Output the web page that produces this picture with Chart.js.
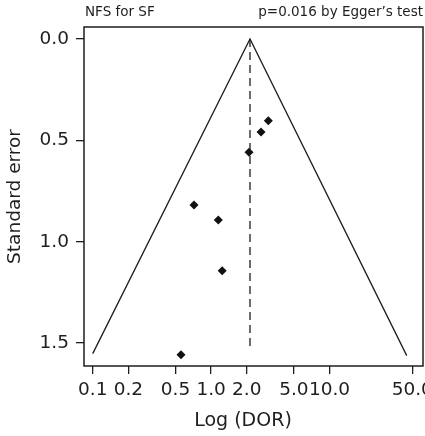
<!DOCTYPE html>
<html>
<head>
<meta charset="utf-8">
<script src="https://cdn.jsdelivr.net/npm/chart.js@4.4.1/dist/chart.umd.min.js"></script>
<style>
  html, body { margin: 0; padding: 0; background: #fff; overflow: hidden; }
  #wrap { width: 440px; height: 436px; }
</style>
</head>
<body>
<div id="wrap"><canvas id="funnelChart" width="440" height="436"></canvas></div>
<script>
// study estimates (DOR on a log axis, standard error reversed)
const studyDOR = [3.04, 2.64, 2.09, 0.717, 1.15, 1.24, 0.557];
const studySE  = [0.403, 0.459, 0.559, 0.819, 0.893, 1.143, 1.557];

// pseudo 95% confidence funnel and pooled estimate
const funnelX = [0.1, 2.13, 44.9];
const funnelY = [1.552, 0, 1.562];
const pooledX = [2.13, 2.13];
const pooledY = [0, 1.535];

const xTicks = [0.1, 0.2, 0.5, 1, 2, 5, 10, 50];
const yTicks = [0, 0.5, 1, 1.5];

const leftTitle = 'NFS for SF';
const rightTitle = 'p=0.016 by Egger\u2019s test';
const xLabel = 'Log (DOR)';
const yLabel = 'Standard error';

const ink = '#1e1e1e';
const fontFam = '"DejaVu Sans", sans-serif';

const toPts = (xs, ys) => xs.map((x, i) => ({ x: x, y: ys[i] }));

// box around the plot + the texts outside the axes
const extras = {
    id: 'extras',
    afterDraw(chart) {
        const { ctx, chartArea: a } = chart;
        ctx.save();
        ctx.strokeStyle = ink;
        ctx.lineWidth = 1.5;
        ctx.strokeRect(a.left, a.top, a.right - a.left, a.bottom - a.top);

        ctx.fillStyle = ink;
        ctx.font = '13.5px ' + fontFam;
        ctx.textBaseline = 'middle';
        ctx.textAlign = 'left';
        ctx.fillText(leftTitle, a.left + 1, 12);
        ctx.textAlign = 'right';
        ctx.fillText(rightTitle, a.right, 12);

        ctx.font = '19px ' + fontFam;
        ctx.textAlign = 'center';
        ctx.fillText(xLabel, 243, 421);
        ctx.restore();
    }
};

const ctx = document.getElementById('funnelChart').getContext('2d');
const chart = new Chart(ctx, {
    type: 'scatter',
    data: {
        datasets: [
            {
                label: 'Funnel',
                data: toPts(funnelX, funnelY),
                showLine: true,
                borderColor: ink,
                borderWidth: 1.3,
                pointRadius: 0,
                fill: false
            },
            {
                label: 'Pooled',
                data: toPts(pooledX, pooledY),
                showLine: true,
                borderColor: ink,
                borderWidth: 1.3,
                borderDash: [8, 5],
                pointRadius: 0,
                fill: false
            },
            {
                label: 'Studies',
                data: toPts(studyDOR, studySE),
                pointStyle: 'rectRot',
                pointRadius: 4.5,
                backgroundColor: '#111',
                borderColor: '#111',
                borderWidth: 0
            }
        ]
    },
    options: {
        responsive: false,
        animation: false,
        layout: { padding: { top: 27, right: 17, bottom: 0, left: 0 } },
        plugins: { legend: { display: false }, tooltip: { enabled: false } },
        scales: {
            x: {
                type: 'logarithmic',
                min: 0.0844,
                max: 61.6,
                afterBuildTicks: s => { s.ticks = xTicks.map(v => ({ value: v })); },
                afterFit: s => { s.height = 70; },
                grid: { display: true, drawOnChartArea: false, tickLength: 8, color: ink, lineWidth: 1.3 },
                border: { display: false },
                ticks: {
                    autoSkip: false,
                    maxRotation: 0,
                    padding: 5,
                    color: ink,
                    font: { family: fontFam, size: 18.5 },
                    callback: v => Number(v).toFixed(1)
                }
            },
            y: {
                type: 'linear',
                reverse: true,
                min: -0.0592,
                max: 1.613,
                afterBuildTicks: s => { s.ticks = yTicks.map(v => ({ value: v })); },
                afterFit: s => { s.width = 84; },
                grid: { display: true, drawOnChartArea: false, tickLength: 8, color: ink, lineWidth: 1.3 },
                border: { display: false },
                ticks: {
                    padding: 7,
                    color: ink,
                    font: { family: fontFam, size: 18.5 },
                    callback: v => Number(v).toFixed(1)
                },
                title: {
                    display: true,
                    text: yLabel,
                    color: ink,
                    padding: { top: 4, bottom: 0 },
                    font: { family: fontFam, size: 18.5 }
                }
            }
        }
    },
    plugins: [extras]
});
</script>
</body>
</html>
